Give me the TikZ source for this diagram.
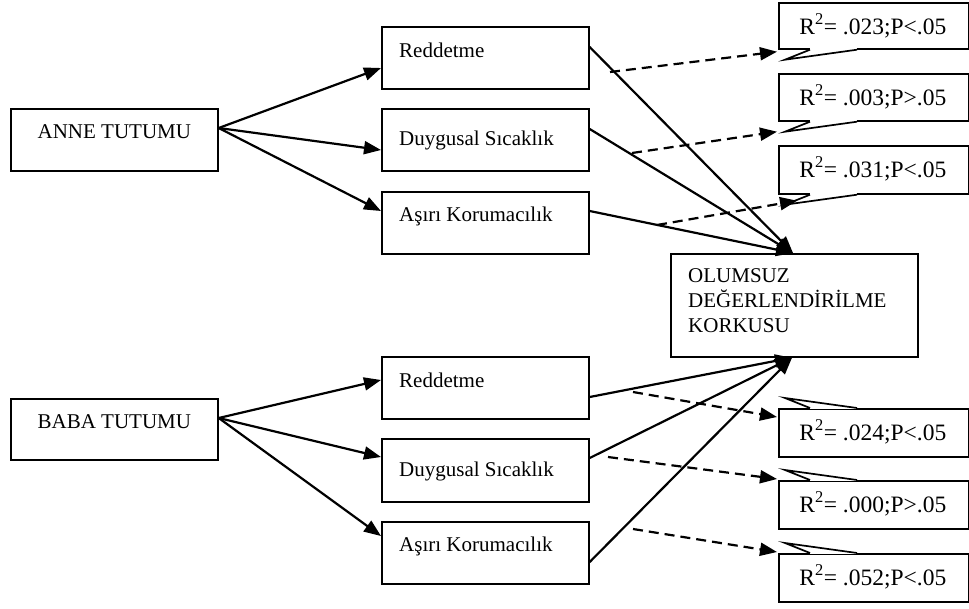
\documentclass[tikz,border=0pt]{standalone}
\usepackage{fontspec}
\setmainfont{Liberation Serif}
\usetikzlibrary{arrows.meta,calc}
\begin{document}
\begin{tikzpicture}[x=1pt,y=-1pt,
  box/.style={draw,line width=1.7pt,rectangle,inner sep=0pt,anchor=north west},
  lbl/.style={anchor=base west,inner sep=0pt,font=\fontsize{21}{25}\selectfont},
  clbl/.style={anchor=base,inner sep=0pt,font=\fontsize{21}{25}\selectfont},
  rlbl/.style={anchor=base,inner sep=0pt,font=\fontsize{23.5}{27}\selectfont},
  arr/.style={line width=2.2pt,-{Triangle[length=17pt,width=13pt]}},
  darr/.style={arr,dash pattern=on 10pt off 6pt},
  tail/.style={line width=1.7pt,line join=miter},
]
\useasboundingbox (0,0) rectangle (969,608);

% left boxes
\node[box,minimum width=207pt,minimum height=62pt] (anne) at (10,108) {};
\node[clbl] (anneT) at ($(anne.north)+(0,30)$) {ANNE TUTUMU};
\node[box,minimum width=207pt,minimum height=61pt] (baba) at (10,398) {};
\node[clbl] (babaT) at ($(baba.north)+(0,30)$) {BABA TUTUMU};

% middle boxes (mother)
\node[box,minimum width=207pt,minimum height=62pt] (r1) at (381,26) {};
\node[lbl] (r1T) at ($(r1.north west)+(18,31)$) {Reddetme};
\node[box,minimum width=207pt,minimum height=62pt] (d1) at (381,108) {};
\node[lbl] (d1T) at ($(d1.north west)+(18,37)$) {Duygusal Sıcaklık};
\node[box,minimum width=207pt,minimum height=62pt] (a1) at (381,191) {};
\node[lbl] (a1T) at ($(a1.north west)+(18,30)$) {Aşırı Korumacılık};

% middle boxes (father)
\node[box,minimum width=207pt,minimum height=62pt] (r2) at (381,356) {};
\node[lbl] (r2T) at ($(r2.north west)+(18,31)$) {Reddetme};
\node[box,minimum width=207pt,minimum height=63pt] (d2) at (381,438) {};
\node[lbl] (d2T) at ($(d2.north west)+(18,38)$) {Duygusal Sıcaklık};
\node[box,minimum width=207pt,minimum height=62pt] (a2) at (381,521) {};
\node[lbl] (a2T) at ($(a2.north west)+(18,30)$) {Aşırı Korumacılık};

% outcome box
\node[box,minimum width=247pt,minimum height=103pt] (olu) at (670,253) {};
\node[lbl] (oluT1) at ($(olu.north west)+(18,29)$) {OLUMSUZ};
\node[lbl] (oluT2) at ($(olu.north west)+(18,54)$) {DEĞERLENDİRİLME};
\node[lbl] (oluT3) at ($(olu.north west)+(18,79)$) {KORKUSU};

% callouts (top, tail below)
\foreach \n/\t/\h/\s in {c1/2/46/.023;P<.05, c2/73/47/.003;P>.05, c3/145/48/.031;P<.05}{
  \node[box,minimum width=190pt,minimum height=\h pt] (\n) at (778,\t) {};
  \draw[white,line width=2.6pt] ([xshift=32pt]\n.south west) -- ([xshift=79pt]\n.south west);
  \draw[tail] ([xshift=32pt]\n.south west) -- ([xshift=7pt,yshift=-10pt]\n.south west) -- ([xshift=79pt]\n.south west);
  \node[rlbl] (\n T) at ($(\n.north)+(-1,32)$) {R\textsuperscript{2}= \s};
}
% callouts (bottom, tail above)
\foreach \n/\t/\s in {c4/408/.024;P<.05, c5/480/.000;P>.05, c6/553/.052;P<.05}{
  \node[box,minimum width=190pt,minimum height=48pt] (\n) at (778,\t) {};
  \draw[white,line width=2.6pt] ([xshift=32pt]\n.north west) -- ([xshift=79pt]\n.north west);
  \draw[tail] ([xshift=32pt]\n.north west) -- ([xshift=7pt,yshift=10pt]\n.north west) -- ([xshift=79pt]\n.north west);
  \node[rlbl] (\n T) at ($(\n.north)+(-1,32)$) {R\textsuperscript{2}= \s};
}

% arrows from parents to dimensions
\draw[arr] ([yshift=-20pt]anne.north east) -- ([yshift=-42pt]r1.north west);
\draw[arr] ([yshift=-20pt]anne.north east) -- ([yshift=-42pt]d1.north west);
\draw[arr] ([yshift=-20pt]anne.north east) -- ([yshift=-20pt]a1.north west);
\draw[arr] ([yshift=-20pt]baba.north east) -- ([yshift=-24pt]r2.north west);
\draw[arr] ([yshift=-20pt]baba.north east) -- ([yshift=-19pt]d2.north west);
\draw[arr] ([yshift=-20pt]baba.north east) -- ([yshift=-15pt]a2.north west);

% arrows to outcome
\draw[arr] ([yshift=-21pt]r1.north east) -- ([xshift=123pt]olu.north west);
\draw[arr] ([yshift=-21pt]d1.north east) -- ([xshift=123pt]olu.north west);
\draw[arr] ([yshift=-20pt]a1.north east) -- ([xshift=123pt]olu.north west);
\draw[arr] ([yshift=-41pt]r2.north east) -- ([xshift=122pt]olu.south west);
\draw[arr] ([yshift=-20pt]d2.north east) -- ([xshift=122pt]olu.south west);
\draw[arr] ([yshift=-41pt]a2.north east) -- ([xshift=122pt]olu.south west);

% dashed arrows to callouts
\coordinate (s1) at (610,72);
\coordinate (s2) at (632,153);
\coordinate (s3) at (657,225);
\coordinate (s4) at (633,392);
\coordinate (s5) at (608,457);
\coordinate (s6) at (633,529);
\coordinate (e1) at ($(c1.south west)+(-1,2)$);
\coordinate (e2) at ($(c2.south west)+(-1,10)$);
\coordinate (e3) at ($(c3.south west)+(19,6)$);
\coordinate (e4) at ($(c4.north west)+(-1,9)$);
\coordinate (e5) at ($(c5.north west)+(-1,-1)$);
\coordinate (e6) at ($(c6.north west)+(-1,-1)$);
\draw[darr] (s1) -- (e1);
\draw[darr] (s2) -- (e2);
\draw[darr] (s3) -- (e3);
\draw[darr] (s4) -- (e4);
\draw[darr] (s5) -- (e5);
\draw[darr] (s6) -- (e6);
\end{tikzpicture}
\end{document}
